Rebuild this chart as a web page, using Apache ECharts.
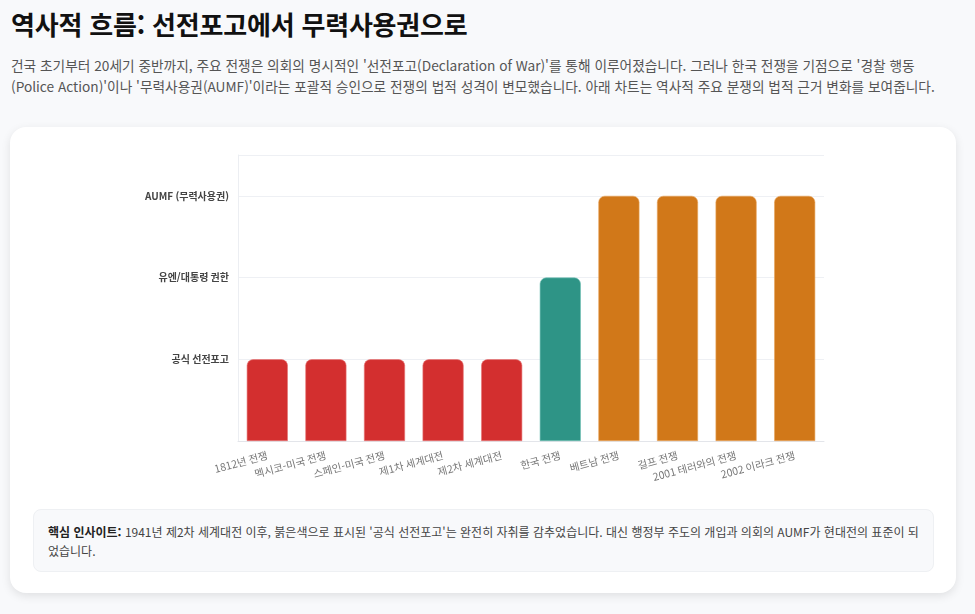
<!DOCTYPE html>
<html lang="ko">
<head>
<meta charset="utf-8">
<script src="https://cdn.jsdelivr.net/npm/echarts@6/dist/echarts.min.js"></script>
<style>
  html, body { margin: 0; padding: 0; }
  body {
    background: #f8f9fb;
    font-family: "Noto Sans CJK KR", "Noto Sans", sans-serif;
    color: #222;
    width: 975px; height: 614px; overflow: hidden;
  }
  h1 {
    position: absolute; left: 11px; top: 5px; margin: 0;
    font-size: 26px; font-weight: 700; color: #111; letter-spacing: -0.2px;
  }
  p.lead {
    position: absolute; left: 11px; top: 55px; width: 945px; margin: 0;
    font-size: 13.7px; line-height: 21px; color: #555;
  }
  .card {
    position: absolute; left: 10px; top: 127px; width: 946px; height: 466px;
    background: #fff; border-radius: 16px;
    box-shadow: 0 3px 10px rgba(0,0,0,0.10);
  }
  #container {
    position: absolute; left: 23px; top: 13px; width: 901px; height: 360px;
  }
  .insight {
    position: absolute; left: 23px; top: 382px; width: 871px; height: 35px;
    background: #f8f9fb; border: 1px solid #eef0f3; border-radius: 8px;
    padding: 12px 14px 14px 14px;
    font-size: 12px; line-height: 19px; color: #444;
  }
  .insight b { color: #222; }
</style>
</head>
<body>
<h1>역사적 흐름: 선전포고에서 무력사용권으로</h1>
<p class="lead">건국 초기부터 20세기 중반까지, 주요 전쟁은 의회의 명시적인 '선전포고(Declaration of War)'를 통해 이루어졌습니다. 그러나 한국 전쟁을 기점으로 '경찰 행동(Police Action)'이나 '무력사용권(AUMF)'이라는 포괄적 승인으로 전쟁의 법적 성격이 변모했습니다. 아래 차트는 역사적 주요 분쟁의 법적 근거 변화를 보여줍니다.</p>
<div class="card">
  <div id="container"></div>
  <div class="insight"><b>핵심 인사이트:</b> 1941년 제2차 세계대전 이후, 붉은색으로 표시된 '공식 선전포고'는 완전히 자취를 감추었습니다. 대신 행정부 주도의 개입과 의회의 AUMF가 현대전의 표준이 되었습니다.</div>
</div>
<script>
var wars = ['1812년 전쟁', '멕시코-미국 전쟁', '스페인-미국 전쟁', '제1차 세계대전', '제2차 세계대전',
            '한국 전쟁', '베트남 전쟁', '걸프 전쟁', '2001 테러와의 전쟁', '2002 이라크 전쟁'];
// 1 = 공식 선전포고, 2 = 유엔/대통령 권한, 3 = AUMF
var authority = [1, 1, 1, 1, 1, 2, 3, 3, 3, 3];
var levelLabels = { 1: '공식 선전포고', 2: '유엔/대통령 권한', 3: 'AUMF (무력사용권)' };
var levelColors = { 1: '#d32f2f', 2: '#2e9486', 3: '#d17819' };
var levelBorders = { 1: '#e57373', 2: '#6fbfb3', 3: '#e8a45c' };

var dom = document.getElementById('container');
var myChart = echarts.init(dom, null, { renderer: 'canvas' });

var option = {
    animation: false,
    grid: { left: 205, right: 110, top: 15, bottom: 59 },
    xAxis: {
        type: 'category',
        data: wars,
        axisLine: { lineStyle: { color: '#e3e5ea' } },
        axisTick: { show: false },
        axisLabel: {
            rotate: 15, color: '#777', fontSize: 10.5, margin: 14,
            fontFamily: 'Noto Sans CJK KR'
        }
    },
    yAxis: {
        type: 'value',
        min: 0, max: 3.5, interval: 1,
        axisLine: { show: true, lineStyle: { color: '#eceef2' } },
        axisTick: { show: false },
        splitLine: { lineStyle: { color: '#eef0f4' } },
        axisLabel: {
            color: '#444', fontSize: 10, fontWeight: 'bold', margin: 9,
            fontFamily: 'Noto Sans CJK KR',
            formatter: function (v) { return levelLabels[v] || ''; }
        }
    },
    series: [{
        type: 'bar',
        barWidth: '70%',
        data: authority.map(function (v) {
            return {
                value: v,
                itemStyle: {
                    color: levelColors[v],
                    borderColor: levelBorders[v],
                    borderWidth: 0.6,
                    borderRadius: [6, 6, 0, 0]
                }
            };
        })
    }]
};

myChart.setOption(option);
window.addEventListener('resize', myChart.resize);
</script>
</body>
</html>
